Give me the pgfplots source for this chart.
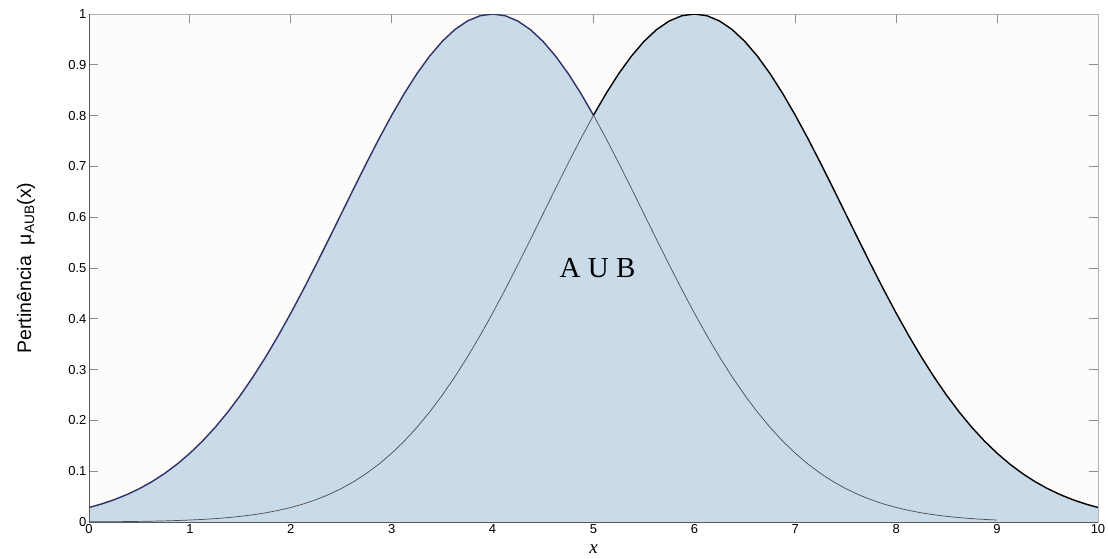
\documentclass[border=0pt]{standalone}
\usepackage{pgfplots}
\pgfplotsset{compat=1.18}
\usepackage{pgfplotstable}
\usepackage{fontspec}
\setmainfont{Liberation Sans}
\newfontfamily\timesfont{Liberation Serif}

\definecolor{fillblue}{RGB}{201,218,232}
\definecolor{edgeA}{RGB}{48,48,105}
\definecolor{panel}{RGB}{253,252,250}

% membership function A (centre 4)
\pgfplotstableread{
x y
0 0.02856
0.125 0.03555
0.25 0.04394
0.375 0.05393
0.5 0.06573
0.625 0.07956
0.75 0.09564
0.875 0.11416
1 0.13534
1.125 0.15933
1.25 0.18626
1.375 0.21627
1.5 0.24935
1.625 0.28551
1.75 0.32465
1.875 0.36660
2 0.41111
2.125 0.45783
2.25 0.50634
2.375 0.55610
2.5 0.60653
2.625 0.65696
2.75 0.70665
2.875 0.75484
3 0.80074
3.125 0.84355
3.25 0.88250
3.375 0.91685
3.5 0.94596
3.625 0.96923
3.75 0.98621
3.875 0.99653
4 1
4.125 0.99653
4.25 0.98621
4.375 0.96923
4.5 0.94596
4.625 0.91685
4.75 0.88250
4.875 0.84355
5 0.80074
5.125 0.75484
5.25 0.70665
5.375 0.65696
5.5 0.60653
5.625 0.55610
5.75 0.50634
5.875 0.45783
6 0.41111
6.125 0.36660
6.25 0.32465
6.375 0.28551
6.5 0.24935
6.625 0.21627
6.75 0.18626
6.875 0.15933
7 0.13534
7.125 0.11416
7.25 0.09564
7.375 0.07956
7.5 0.06573
7.625 0.05393
7.75 0.04394
7.875 0.03555
8 0.02856
8.125 0.02279
8.25 0.01806
8.375 0.01422
8.5 0.01111
8.625 0.00862
8.75 0.00665
8.875 0.00509
9 0.00387
}\tabA

% membership function B (centre 6)
\pgfplotstableread{
x y
0 0.00034
0.125 0.00047
0.25 0.00064
0.375 0.00088
0.5 0.00120
0.625 0.00163
0.75 0.00219
0.875 0.00292
1 0.00387
1.125 0.00509
1.25 0.00665
1.375 0.00862
1.5 0.01111
1.625 0.01422
1.75 0.01806
1.875 0.02279
2 0.02856
2.125 0.03555
2.25 0.04394
2.375 0.05393
2.5 0.06573
2.625 0.07956
2.75 0.09564
2.875 0.11416
3 0.13534
3.125 0.15933
3.25 0.18626
3.375 0.21627
3.5 0.24935
3.625 0.28551
3.75 0.32465
3.875 0.36660
4 0.41111
4.125 0.45783
4.25 0.50634
4.375 0.55610
4.5 0.60653
4.625 0.65696
4.75 0.70665
4.875 0.75484
5 0.80074
5.125 0.84355
5.25 0.88250
5.375 0.91685
5.5 0.94596
5.625 0.96923
5.75 0.98621
5.875 0.99653
6 1
6.125 0.99653
6.25 0.98621
6.375 0.96923
6.5 0.94596
6.625 0.91685
6.75 0.88250
6.875 0.84355
7 0.80074
7.125 0.75484
7.25 0.70665
7.375 0.65696
7.5 0.60653
7.625 0.55610
7.75 0.50634
7.875 0.45783
8 0.41111
8.125 0.36660
8.25 0.32465
8.375 0.28551
8.5 0.24935
8.625 0.21627
8.75 0.18626
8.875 0.15933
9 0.13534
9.125 0.11416
9.25 0.09564
9.375 0.07956
9.5 0.06573
9.625 0.05393
9.75 0.04394
9.875 0.03555
10 0.02856
}\tabB

\begin{document}
\begin{tikzpicture}
\path[use as bounding box] (-89pt,-36pt) rectangle (1019pt,522pt);
\begin{axis}[
  at={(0pt,0pt)}, anchor=south west,
  scale only axis, width=1009pt, height=508pt,
  xmin=0, xmax=10, ymin=0, ymax=1,
  xtick={0,1,2,3,4,5,6,7,8,9,10},
  ytick={0,0.1,0.2,0.3,0.4,0.5,0.6,0.7,0.8,0.9,1},
  yticklabels={0,0.1,0.2,0.3,0.4,0.5,0.6,0.7,0.8,0.9,1},
  tick align=inside, major tick length=9pt,
  tick style={black!45, line width=0.8pt},
  axis line style={black!30, line width=0.9pt},
  axis background/.style={fill=panel},
  tick label style={font=\fontsize{13}{14}\selectfont},
  xticklabel style={yshift=1pt},
  yticklabel style={xshift=1pt},
  /pgf/number format/assume math mode=true,
  xlabel={\timesfont\itshape\fontsize{19}{20}\selectfont x},
  every axis x label/.style={at={(axis description cs:0.5,0)}, yshift=-27pt, anchor=center},
  ylabel={\fontsize{19.5}{22}\selectfont Pertinência\ \ μ\textsubscript{AUB}(x)},
  every axis y label/.style={at={(axis description cs:0,0.5)}, xshift=-63pt, rotate=90, anchor=center},
]
% shaded union A U B
\addplot[draw=none, fill=fillblue, restrict x to domain=0:5.25] table[x=x,y=y] {\tabA} \closedcycle;
\addplot[draw=none, fill=fillblue, restrict x to domain=4.75:10] table[x=x,y=y] {\tabB} \closedcycle;
% inner (non-maximal) branches
\addplot[black!70, line width=0.7pt, restrict x to domain=5:9] table[x=x,y=y] {\tabA};
\addplot[black!70, line width=0.7pt, restrict x to domain=0:5] table[x=x,y=y] {\tabB};
% outline of the union
\addplot[edgeA, line width=1.4pt, restrict x to domain=0:5] table[x=x,y=y] {\tabA};
\addplot[black, line width=1.4pt, restrict x to domain=5:10] table[x=x,y=y] {\tabB};
\draw[black!65, line width=0.9pt] (rel axis cs:0,1) -- (rel axis cs:0,0) -- (rel axis cs:1,0);
\draw[black!50, line width=0.9pt] (rel axis cs:1,0) -- (rel axis cs:1,1);
\node[font=\timesfont\fontsize{29}{30}\selectfont, anchor=center] at (axis cs:5.04,0.5) {A U B};
\end{axis}
\end{tikzpicture}
\end{document}
